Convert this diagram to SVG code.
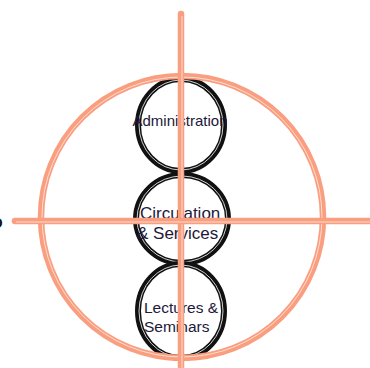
<svg xmlns="http://www.w3.org/2000/svg" width="370" height="368" viewBox="0 0 370 368">
<style>
.blk{fill:none;stroke:#111;stroke-width:6}
.blkin{fill:none;stroke:#fff;stroke-width:0.8}
.sal{fill:none;stroke:#FA9E80;stroke-width:6.5;stroke-linecap:round}
.salin{fill:none;stroke:#fff;stroke-width:0.8;opacity:0.8}
.lbl{font-family:"Liberation Sans",Arial,sans-serif;fill:#22183A}
</style>
<rect width="370" height="368" fill="#fff"/>
<g id="administration">
<ellipse class="blk" cx="181" cy="125" rx="43" ry="46"/>
<ellipse class="blkin" cx="181" cy="125" rx="42" ry="45"/>
<text class="lbl" x="180" y="126" font-size="15" text-anchor="middle">Administration</text>
</g>
<g id="circulation">
<ellipse class="blk" cx="182" cy="219" rx="46" ry="44"/>
<ellipse class="blkin" cx="182" cy="219" rx="45" ry="43"/>
<text class="lbl" font-size="17"><tspan x="140" y="219">Circulation</tspan><tspan x="137" y="239">&amp; Services</tspan></text>
</g>
<g id="lectures">
<ellipse class="blk" cx="181" cy="311" rx="43" ry="47"/>
<ellipse class="blkin" cx="181" cy="311" rx="42" ry="46"/>
<text class="lbl" font-size="15.5"><tspan x="144" y="313">Lectures &amp;</tspan><tspan x="144" y="332">Seminars</tspan></text>
</g>
<g id="connectors">
<circle class="sal" cx="182" cy="217" r="141"/>
<circle class="salin" cx="182" cy="217" r="140"/>
<line class="sal" x1="181" y1="14" x2="181" y2="370"/>
<line class="salin" x1="182" y1="16" x2="182" y2="370"/>
<line class="sal" x1="15" y1="221" x2="372" y2="221"/>
<line class="salin" x1="16" y1="222" x2="372" y2="222"/>
</g>
<text x="-9" y="228" font-size="15" font-family="Liberation Sans, Arial, sans-serif" font-weight="bold" fill="#111">O</text>
</svg>
